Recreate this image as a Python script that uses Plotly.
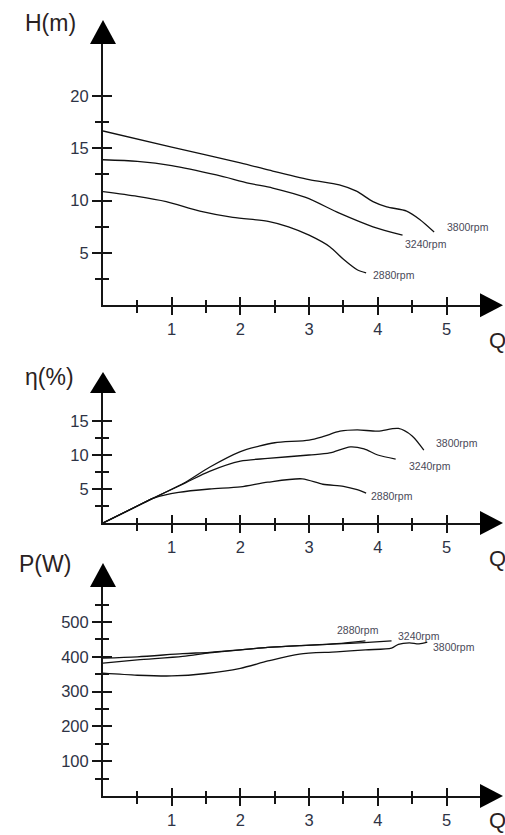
import plotly.graph_objects as go

W, H = 505, 835

# ---------------- data ----------------
q_ticks = [1, 2, 3, 4, 5]
q_minor = [0.5, 1.5, 2.5, 3.5, 4.5]

h_ticks = [5, 10, 15, 20]
h_minor = [2.5, 7.5, 12.5, 17.5]
eta_ticks = [5, 10, 15]
eta_minor = [2.5, 7.5, 12.5]
p_ticks = [100, 200, 300, 400, 500]
p_minor = [50, 150, 250, 350, 450, 550]

speeds = ["2880rpm", "3240rpm", "3800rpm"]

# Head H(m) vs Q
head_q_2880 = [0, 0.5, 0.92, 1.41, 1.89, 2.42, 2.7, 3.0, 3.3, 3.5, 3.7, 3.83]
head_2880 = [10.85, 10.4, 9.9, 9.0, 8.4, 8.0, 7.5, 6.7, 5.6, 4.4, 3.4, 3.1]
head_q_3240 = [0, 0.5, 1.0, 1.65, 2.13, 2.47, 2.95, 3.44, 3.93, 4.36]
head_3240 = [13.9, 13.75, 13.35, 12.45, 11.65, 11.2, 10.3, 8.8, 7.5, 6.7]
head_q_3800 = [0, 1.0, 2.0, 2.42, 3.0, 3.44, 3.69, 3.93, 4.13, 4.42, 4.61, 4.82]
head_3800 = [16.65, 15.1, 13.6, 12.9, 12.0, 11.5, 10.9, 9.9, 9.4, 9.0, 8.2, 7.0]

# Efficiency eta(%) vs Q
eta_q_2880 = [0, 0.5, 0.75, 1.1, 1.55, 2.0, 2.4, 2.9, 3.2, 3.5, 3.7, 3.83]
eta_2880 = [0, 2.5, 3.7, 4.5, 5.0, 5.3, 6.0, 6.5, 5.7, 5.4, 4.9, 4.4]
eta_q_3240 = [0, 0.7, 1.2, 1.55, 2.0, 2.4, 3.0, 3.3, 3.6, 3.8, 4.0, 4.26]
eta_3240 = [0, 3.5, 5.9, 7.6, 9.1, 9.5, 10.0, 10.3, 11.2, 10.9, 10.0, 9.4]
eta_q_3800 = [0, 0.7, 1.2, 1.55, 2.0, 2.27, 2.5, 3.0, 3.2, 3.45, 3.7, 4.0, 4.3, 4.5, 4.67]
eta_3800 = [0, 3.5, 6.0, 8.2, 10.5, 11.3, 11.8, 12.2, 12.7, 13.5, 13.7, 13.5, 13.9, 12.8, 10.7]

# Power P(W) vs Q
pow_q_2880 = [0, 0.5, 1.16, 1.55, 2.0, 2.4, 2.86, 3.4, 3.82]
pow_2880 = [396, 400, 409, 413, 420, 427, 432, 438, 446]
pow_q_3240 = [0, 0.5, 1.16, 1.55, 2.0, 2.4, 2.86, 3.4, 3.8, 4.2]
pow_3240 = [382, 391, 401, 411, 420, 427, 432, 437, 441, 446]
pow_q_3800 = [0, 0.5, 1.0, 1.5, 2.0, 2.4, 2.86, 3.4, 3.82, 4.2, 4.3, 4.46, 4.6, 4.72]
pow_3800 = [353, 347, 345, 352, 367, 388, 408, 414, 420, 425, 436, 440, 437, 442]

# ---------------- geometry (pixels) ----------------
X0, XEND, PX_Q = 103, 490, 68.7
panels = [
    dict(origin=305.3, scale=10.47, top=44, tip=20, title="H(m)", tpos=(50, 23),
         ticks=h_ticks, minor=h_minor,
         series=[(head_q_2880, head_2880), (head_q_3240, head_3240), (head_q_3800, head_3800)],
         lab_off=[(5, -2), (0, -9), (11, 5)]),
    dict(origin=523, scale=6.8, top=393, tip=372, title="η(%)", tpos=(49, 377),
         ticks=eta_ticks, minor=eta_minor,
         series=[(eta_q_2880, eta_2880), (eta_q_3240, eta_3240), (eta_q_3800, eta_3800)],
         lab_off=[(3, -3), (11, -7), (10, 7)]),
    dict(origin=796, scale=0.348, top=587, tip=563, title="P(W)", tpos=(45, 564),
         ticks=p_ticks, minor=p_minor,
         series=[(pow_q_2880, pow_2880), (pow_q_3240, pow_3240), (pow_q_3800, pow_3800)],
         lab_off=[(-30, 11), (4, 5), (4, -5)]),
]

FONT = "Liberation Sans, Arial, sans-serif"
AX = "#151515"
TXT = "#2e3345"

def px(x):
    return x / W

def py(y):
    return 1 - y / H

fig = go.Figure()
layout = dict(width=W, height=H, margin=dict(l=0, r=0, t=0, b=0),
              paper_bgcolor="white", plot_bgcolor="rgba(0,0,0,0)",
              showlegend=False, font=dict(family=FONT, color=TXT))
shapes, annotations = [], []
xrange_ = [0, (XEND - X0) / PX_Q]

for i, p in enumerate(panels):
    n = i + 1
    m = i + 4
    xs = "" if n == 1 else str(n)
    ydom = [py(p["origin"]), py(p["top"])]
    yrange = [0, (p["origin"] - p["top"]) / p["scale"]]
    common_x = dict(range=xrange_, showgrid=False, zeroline=False, fixedrange=True)
    common_y = dict(range=yrange, showgrid=False, zeroline=False, fixedrange=True)
    layout["xaxis" + xs] = dict(domain=[px(X0), px(XEND)], anchor="y" + xs,
                                showline=True, linecolor=AX, linewidth=2,
                                ticks="outside", ticklen=8, tickwidth=2, tickcolor=AX,
                                tickmode="array", tickvals=q_ticks,
                                ticktext=[str(v) for v in q_ticks],
                                tickfont=dict(size=16.5, color=TXT),
                                minor=dict(tickmode="array", tickvals=q_minor, ticks="outside",
                                           ticklen=6, tickwidth=2, tickcolor=AX),
                                **common_x)
    layout["yaxis" + xs] = dict(domain=ydom, anchor="x" + xs,
                                showline=True, linecolor=AX, linewidth=2,
                                ticks="outside", ticklen=9, tickwidth=2, tickcolor=AX,
                                tickmode="array", tickvals=p["ticks"],
                                ticktext=[str(v) for v in p["ticks"]],
                                tickfont=dict(size=16.5, color=TXT),
                                minor=dict(tickmode="array", tickvals=p["minor"], ticks="outside",
                                           ticklen=6, tickwidth=2, tickcolor=AX),
                                **common_y)
    # overlay axes for the inner half of the crossing ticks
    layout["xaxis%d" % m] = dict(overlaying="x" + xs, anchor="y%d" % m, showline=False,
                                 ticks="inside", ticklen=8, tickwidth=2, tickcolor=AX,
                                 tickmode="array", tickvals=q_ticks, showticklabels=False,
                                 minor=dict(tickmode="array", tickvals=q_minor, ticks="inside",
                                            ticklen=5, tickwidth=2, tickcolor=AX),
                                 **common_x)
    layout["yaxis%d" % m] = dict(overlaying="y" + xs, anchor="x%d" % m, showline=False,
                                 ticks="inside", ticklen=9, tickwidth=2, tickcolor=AX,
                                 tickmode="array", tickvals=p["ticks"], showticklabels=False,
                                 minor=dict(tickmode="array", tickvals=p["minor"], ticks="inside",
                                            ticklen=6, tickwidth=2, tickcolor=AX),
                                 **common_y)
    fig.add_trace(go.Scatter(x=[None], y=[None], xaxis="x%d" % m, yaxis="y%d" % m,
                             hoverinfo="skip", showlegend=False))

    for (qv, vv), name, (dx, dy) in zip(p["series"], speeds, p["lab_off"]):
        fig.add_trace(go.Scatter(x=qv, y=vv, mode="lines", name=name,
                                 line=dict(color="#111111", width=1.3, shape="spline", smoothing=0.8),
                                 xaxis="x" + xs, yaxis="y" + xs, hoverinfo="skip"))
        annotations.append(dict(x=qv[-1], y=vv[-1], xref="x" + xs, yref="y" + xs,
                                text=name, showarrow=False, xanchor="left", yanchor="middle",
                                xshift=dx, yshift=dy,
                                font=dict(size=10.5, color="#4a4a58", family=FONT)))

    # arrowheads
    o, top, tip = p["origin"], p["top"], p["tip"]
    shapes.append(dict(type="path", xref="paper", yref="paper", line=dict(width=0),
                       fillcolor="black",
                       path="M %f %f L %f %f L %f %f Z" % (px(X0 - 13), py(top), px(X0 + 13), py(top),
                                                          px(X0), py(tip))))
    shapes.append(dict(type="path", xref="paper", yref="paper", line=dict(width=0),
                       fillcolor="black",
                       path="M %f %f L %f %f L %f %f Z" % (px(480), py(o - 12), px(480), py(o + 12),
                                                          px(503), py(o))))
    # axis titles
    annotations.append(dict(x=px(p["tpos"][0]), y=py(p["tpos"][1]), xref="paper", yref="paper",
                            text=p["title"], showarrow=False, xanchor="center", yanchor="middle",
                            font=dict(size=23, color="#2a2222", family=FONT)))
    annotations.append(dict(x=px(497), y=py(min(o + 35, 820)), xref="paper", yref="paper",
                            text="Q", showarrow=False, xanchor="center", yanchor="middle",
                            font=dict(size=22, color="#2a2222", family=FONT)))

layout["shapes"] = shapes
layout["annotations"] = annotations
fig.update_layout(**layout)
fig.write_html("out.html", config={"displayModeBar": False, "staticPlot": True},
               post_script="document.body.style.margin='0px';document.body.style.overflow='hidden';")
